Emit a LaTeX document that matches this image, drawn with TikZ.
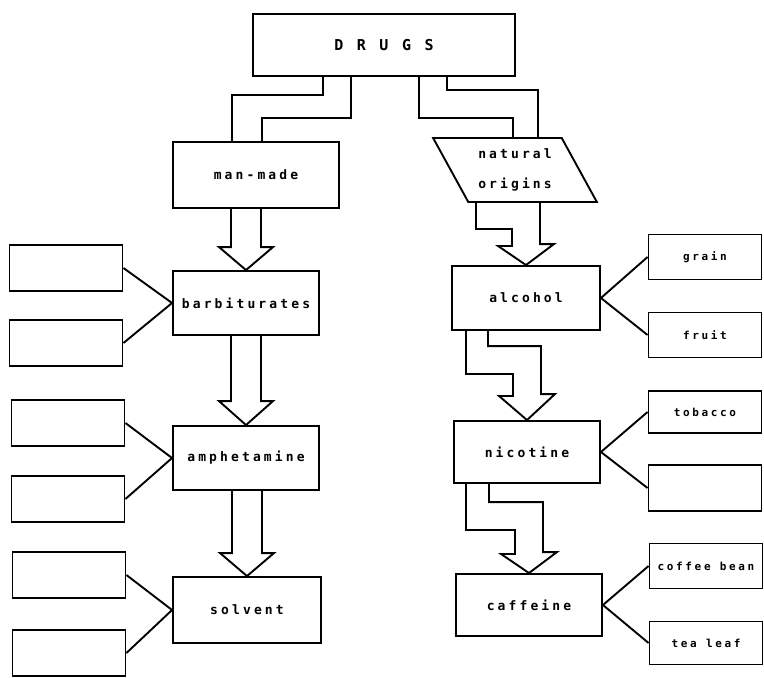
\documentclass[tikz,border=0pt]{standalone}
\usepackage{fontspec}
\newfontfamily\dotfont{DejaVu Sans Mono}[LetterSpace=24]
\newfontfamily\dotbig{DejaVu Sans Mono}[LetterSpace=90]
\usetikzlibrary{shapes.geometric}

\begin{document}
\begin{tikzpicture}[x=1pt,y=-1pt,line width=1.9pt,
    box/.style={draw,minimum width=146,minimum height=64,inner sep=0,
        font=\dotfont\bfseries\fontsize{13}{15}\selectfont},
    blank/.style={draw,minimum width=113,minimum height=46,inner sep=0},
    leaf/.style={draw,minimum width=113,minimum height=45,inner sep=0,
        font=\dotfont\bfseries\fontsize{11}{13}\selectfont}]
    \useasboundingbox (0,0) rectangle (764,678);

    % top of the tree
    \node[draw,minimum width=262,minimum height=62,
        font=\dotbig\bfseries\fontsize{15}{17}\selectfont] (drugs) at (384,45) {DRUGS};
    \node[box,minimum width=166,minimum height=66] (mm) at (256,175) {man-made};
    \node[draw,trapezium,trapezium left angle=123,trapezium right angle=57,
        trapezium stretches=true,minimum width=164,minimum height=64,inner sep=0,
        align=center,font=\dotfont\bfseries\fontsize{13}{30}\selectfont] (nat) at (515,170) {natural\\origins};

    % left column
    \node[box] (barb) at (246,303) {barbiturates};
    \node[box] (amph) at (246,458) {amphetamine};
    \node[box,minimum width=148,minimum height=66] (solv) at (247,610) {solvent};

    % right column
    \node[box,minimum width=148] (alc) at (526,298) {alcohol};
    \node[box,minimum height=62] (nic) at (527,452) {nicotine};
    \node[box,minimum height=62] (caf) at (529,605) {caffeine};

    % empty boxes
    \node[blank] (lb1) at (66,268) {};
    \node[blank] (lb2) at (66,343) {};
    \node[blank] (lb3) at (68,423) {};
    \node[blank] (lb4) at (68,499) {};
    \node[blank] (lb5) at (69,575) {};
    \node[blank] (lb6) at (69,653) {};

    % sources
    \node[leaf] (grain) at (705,257) {grain};
    \node[leaf] (fruit) at (705,335) {fruit};
    \node[leaf,minimum height=42] (tob) at (705,412) {tobacco};
    \node[blank] (rb) at (705,488) {};
    \node[leaf] (bean) at (706,566) {coffee bean};
    \node[leaf,minimum height=43] (tea) at (706,643) {tea leaf};

    \draw (lb1.east) -- (barb.west) -- (lb2.east);
    \draw (lb3.east) -- (amph.west) -- (lb4.east);
    \draw (lb5.east) -- (solv.west) -- (lb6.east);
    \draw (grain.west) -- (alc.east) -- (fruit.west);
    \draw (tob.west) -- (nic.east) -- (rb.west);
    \draw (bean.west) -- (caf.east) -- (tea.west);

    % pipes out of DRUGS
    \draw ([xshift=-61]drugs.south) -- ++(0,18) -| ([xshift=-24]mm.north);
    \draw ([xshift=-33]drugs.south) -- ++(0,41) -| ([xshift=6]mm.north);
    \draw ([xshift=35]drugs.south) -- ++(0,41) -| ([xshift=-2]nat.north);
    \draw ([xshift=63]drugs.south) -- ++(0,13) -| ([xshift=23]nat.north);

    % hollow arrows, left
    \draw (barb.north) ++(-15,-63) -- ++(0,40) -- ++(-12,0) -- (barb.north)
        -- ++(27,-23) -- ++(-12,0) -- ++(0,-40);
    \draw (amph.north) ++(-15,-91) -- ++(0,67) -- ++(-12,0) -- (amph.north)
        -- ++(27,-24) -- ++(-12,0) -- ++(0,-67);
    \draw (solv.north) ++(-15,-87) -- ++(0,64) -- ++(-12,0) -- (solv.north)
        -- ++(27,-23) -- ++(-12,0) -- ++(0,-64);

    % hollow arrows, right
    \draw ([xshift=-39]nat.south) -- ++(0,26) -| ++(36,17) -- ++(-14,0) -- (alc.north)
        -- ++(28,-21) -- ++(-14,0) -- ++(0,-43);
    \draw ([xshift=-60]alc.south) -- ++(0,43) -| ++(47,22) -- ++(-14,0) -- (nic.north)
        -- ++(28,-26) -- ++(-14,0) -- ++(0,-48) -| ([xshift=-38]alc.south);
    \draw ([xshift=-61]nic.south) -- ++(0,46) -| ++(49,24) -- ++(-14,0) -- (caf.north)
        -- ++(28,-21) -- ++(-14,0) -- ++(0,-50) -| ([xshift=-38]nic.south);
\end{tikzpicture}
\end{document}
